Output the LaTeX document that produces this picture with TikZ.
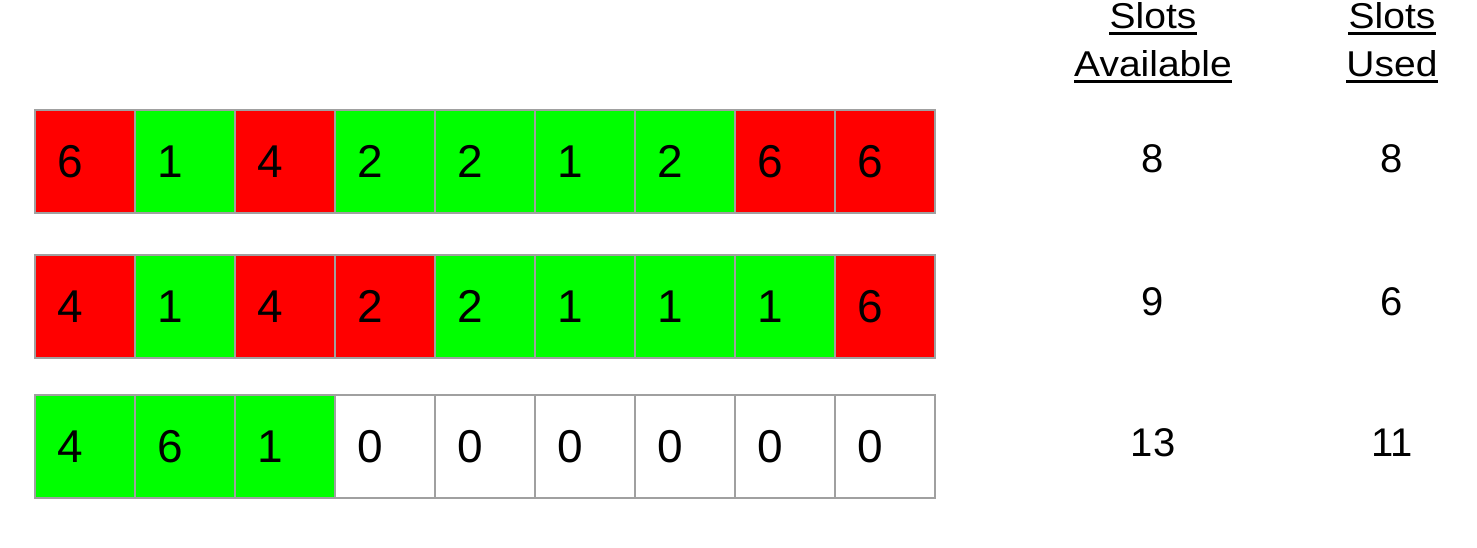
\documentclass[tikz,border=0pt]{standalone}
\usepackage{fontspec}
\setmainfont{Liberation Sans}
\definecolor{cellred}{HTML}{FF0000}
\definecolor{cellgreen}{HTML}{00FF00}
\definecolor{cellborder}{HTML}{A0A0A0}
\newcommand{\squash}[1]{\scalebox{1}[0.92]{#1}}
\begin{document}
\begin{tikzpicture}[x=1pt,y=-1pt,
  cell/.style={draw=cellborder,line width=2pt,minimum height=103pt,
    text width=56pt,inner xsep=22.5pt,inner ysep=0pt,outer sep=0pt,align=left,
    font=\fontsize{46}{46}\selectfont,anchor=north west},
  R/.style={cell,fill=cellred},
  G/.style={cell,fill=cellgreen},
  W/.style={cell,fill=white},
  head/.style={font=\fontsize{39}{40}\selectfont,anchor=base,inner sep=0pt},
  uline/.style={line width=2.2pt},
  num/.style={font=\fontsize{40}{40}\selectfont,anchor=center,inner sep=0pt}]
\useasboundingbox (0,0) rectangle (1477,548);
% row 1
\foreach \c/\s/\t [count=\i from 0] in {R/a/6,G/b/1,R/c/4,G/d/2,G/e/2,G/f/1,G/g/2,R/h/6,R/i/6}
  \node[\c, text width=55pt] (r1\s) at (35+100*\i,110) {\t};
% row 2
\foreach \c/\s/\t [count=\i from 0] in {R/a/4,G/b/1,R/c/4,R/d/2,G/e/2,G/f/1,G/g/1,G/h/1,R/i/6}
  \node[\c, text width=55pt] (r2\s) at (35+100*\i,255) {\t};
% row 3
\foreach \c/\s/\t [count=\i from 0] in {G/a/4,G/b/6,G/c/1,W/d/0,W/e/0,W/f/0,W/g/0,W/h/0,W/i/0}
  \node[\c, text width=55pt] (r3\s) at (35+100*\i,395) {\t};
% headers
\node[head] (h1a) at (1153,28.5) {\squash{Slots}};
\node[head] (h1b) at (1153,76.5) {\squash{Available}};
\node[head] (h2a) at (1392,28.5) {\squash{Slots}};
\node[head] (h2b) at (1392,76.5) {\squash{Used}};
\foreach \n in {h1a,h1b,h2a,h2b}
  \draw[uline] ([yshift=-5pt]\n.base west) -- ([yshift=-5pt]\n.base east);
% values
\node[num] (a1) at (1153,158.5) {8};
\node[num] (u1) at (1392,158.5) {8};
\node[num] (a2) at (1153,302) {9};
\node[num] (u2) at (1392,302) {6};
\node[num] (a3) at (1153,443) {13};
\node[num] (u3) at (1392,443) {11};
\end{tikzpicture}
\end{document}
